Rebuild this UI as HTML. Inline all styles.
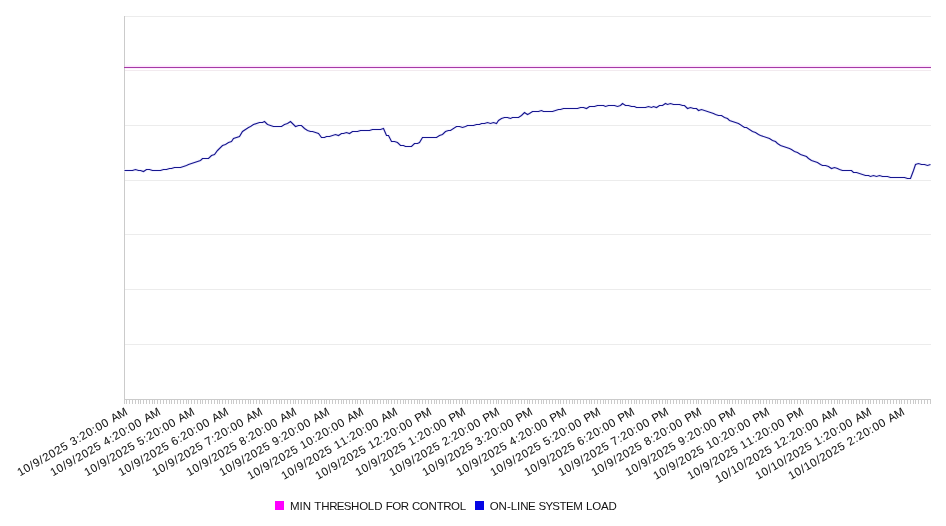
<!DOCTYPE html>
<html lang="en"><head><meta charset="utf-8"><title>On-line system load</title>
<style>html,body{margin:0;padding:0;background:#fff;}body{width:946px;height:526px;overflow:hidden;}svg{display:block;}text{font-family:"Liberation Sans",sans-serif;fill:#121212;}.lab{font-size:11.5px;stroke:#121212;stroke-width:0.06px;}.leg{font-size:11.5px;}</style></head><body>
<svg width="946" height="526" viewBox="0 0 946 526" role="img" aria-label="On-line system load chart">
<rect x="0" y="0" width="946" height="526" fill="#ffffff"/>
<g stroke="#ececec" stroke-width="1" shape-rendering="crispEdges">
<line x1="124" y1="16.5" x2="931" y2="16.5"/>
<line x1="124" y1="70.5" x2="931" y2="70.5" stroke="#f2eaef"/>
<line x1="124" y1="125.5" x2="931" y2="125.5"/>
<line x1="124" y1="180.5" x2="931" y2="180.5"/>
<line x1="124" y1="234.5" x2="931" y2="234.5"/>
<line x1="124" y1="289.5" x2="931" y2="289.5"/>
<line x1="124" y1="344.5" x2="931" y2="344.5"/>
</g>
<g stroke="#cbcbcb" stroke-width="1" shape-rendering="crispEdges">
<line x1="124.5" y1="16" x2="124.5" y2="400"/>
<line x1="124" y1="399.5" x2="931" y2="399.5"/>
<path d="M124.5 400v4M126.5 400v4M129.5 400v4M132.5 400v4M135.5 400v4M138.5 400v4M140.5 400v4M143.5 400v4M146.5 400v4M149.5 400v4M152.5 400v4M154.5 400v4M157.5 400v4M160.5 400v4M163.5 400v4M166.5 400v4M169.5 400v4M171.5 400v4M174.5 400v4M177.5 400v4M180.5 400v4M183.5 400v4M186.5 400v4M188.5 400v4M191.5 400v4M194.5 400v4M197.5 400v4M200.5 400v4M202.5 400v4M205.5 400v4M208.5 400v4M211.5 400v4M214.5 400v4M217.5 400v4M219.5 400v4M222.5 400v4M225.5 400v4M228.5 400v4M231.5 400v4M233.5 400v4M236.5 400v4M239.5 400v4M242.5 400v4M245.5 400v4M248.5 400v4M250.5 400v4M253.5 400v4M256.5 400v4M259.5 400v4M262.5 400v4M264.5 400v4M267.5 400v4M270.5 400v4M273.5 400v4M276.5 400v4M279.5 400v4M281.5 400v4M284.5 400v4M287.5 400v4M290.5 400v4M293.5 400v4M295.5 400v4M298.5 400v4M301.5 400v4M304.5 400v4M307.5 400v4M310.5 400v4M312.5 400v4M315.5 400v4M318.5 400v4M321.5 400v4M324.5 400v4M326.5 400v4M329.5 400v4M332.5 400v4M335.5 400v4M338.5 400v4M341.5 400v4M343.5 400v4M346.5 400v4M349.5 400v4M352.5 400v4M355.5 400v4M357.5 400v4M360.5 400v4M363.5 400v4M366.5 400v4M369.5 400v4M372.5 400v4M374.5 400v4M377.5 400v4M380.5 400v4M383.5 400v4M386.5 400v4M388.5 400v4M391.5 400v4M394.5 400v4M397.5 400v4M400.5 400v4M403.5 400v4M405.5 400v4M408.5 400v4M411.5 400v4M414.5 400v4M417.5 400v4M419.5 400v4M422.5 400v4M425.5 400v4M428.5 400v4M431.5 400v4M434.5 400v4M436.5 400v4M439.5 400v4M442.5 400v4M445.5 400v4M448.5 400v4M450.5 400v4M453.5 400v4M456.5 400v4M459.5 400v4M462.5 400v4M465.5 400v4M467.5 400v4M470.5 400v4M473.5 400v4M476.5 400v4M479.5 400v4M481.5 400v4M484.5 400v4M487.5 400v4M490.5 400v4M493.5 400v4M496.5 400v4M498.5 400v4M501.5 400v4M504.5 400v4M507.5 400v4M510.5 400v4M512.5 400v4M515.5 400v4M518.5 400v4M521.5 400v4M524.5 400v4M527.5 400v4M529.5 400v4M532.5 400v4M535.5 400v4M538.5 400v4M541.5 400v4M543.5 400v4M546.5 400v4M549.5 400v4M552.5 400v4M555.5 400v4M558.5 400v4M560.5 400v4M563.5 400v4M566.5 400v4M569.5 400v4M572.5 400v4M574.5 400v4M577.5 400v4M580.5 400v4M583.5 400v4M586.5 400v4M589.5 400v4M591.5 400v4M594.5 400v4M597.5 400v4M600.5 400v4M603.5 400v4M605.5 400v4M608.5 400v4M611.5 400v4M614.5 400v4M617.5 400v4M620.5 400v4M622.5 400v4M625.5 400v4M628.5 400v4M631.5 400v4M634.5 400v4M636.5 400v4M639.5 400v4M642.5 400v4M645.5 400v4M648.5 400v4M651.5 400v4M653.5 400v4M656.5 400v4M659.5 400v4M662.5 400v4M665.5 400v4M667.5 400v4M670.5 400v4M673.5 400v4M676.5 400v4M679.5 400v4M682.5 400v4M684.5 400v4M687.5 400v4M690.5 400v4M693.5 400v4M696.5 400v4M698.5 400v4M701.5 400v4M704.5 400v4M707.5 400v4M710.5 400v4M713.5 400v4M715.5 400v4M718.5 400v4M721.5 400v4M724.5 400v4M727.5 400v4M729.5 400v4M732.5 400v4M735.5 400v4M738.5 400v4M741.5 400v4M744.5 400v4M746.5 400v4M749.5 400v4M752.5 400v4M755.5 400v4M758.5 400v4M760.5 400v4M763.5 400v4M766.5 400v4M769.5 400v4M772.5 400v4M775.5 400v4M777.5 400v4M780.5 400v4M783.5 400v4M786.5 400v4M789.5 400v4M791.5 400v4M794.5 400v4M797.5 400v4M800.5 400v4M803.5 400v4M806.5 400v4M808.5 400v4M811.5 400v4M814.5 400v4M817.5 400v4M820.5 400v4M822.5 400v4M825.5 400v4M828.5 400v4M831.5 400v4M834.5 400v4M837.5 400v4M839.5 400v4M842.5 400v4M845.5 400v4M848.5 400v4M851.5 400v4M853.5 400v4M856.5 400v4M859.5 400v4M862.5 400v4M865.5 400v4M868.5 400v4M870.5 400v4M873.5 400v4M876.5 400v4M879.5 400v4M882.5 400v4M884.5 400v4M887.5 400v4M890.5 400v4M893.5 400v4M896.5 400v4M899.5 400v4M901.5 400v4M904.5 400v4M907.5 400v4M910.5 400v4M913.5 400v4M915.5 400v4M918.5 400v4M921.5 400v4M924.5 400v4M927.5 400v4M930.5 400v4" fill="none"/>
</g>
<g shape-rendering="crispEdges" stroke-width="1">
<line x1="125" y1="65.5" x2="931" y2="65.5" stroke="#fff3ff"/>
<line x1="125" y1="66.5" x2="931" y2="66.5" stroke="#fde4fd"/>
<line x1="125" y1="68.5" x2="931" y2="68.5" stroke="#fdeefd"/>
<line x1="124" y1="67.5" x2="931" y2="67.5" stroke="#a63aa6"/>
</g>
<polyline fill="none" stroke="#f3f2ff" stroke-width="3" stroke-linejoin="round" points="124.5,170.5 132.5,170.5 135.5,169.5 138.5,170.5 140.5,170.5 143.5,171.5 146.5,169.5 149.5,169.5 152.5,170.5 160.5,170.5 163.5,169.5 166.5,169.5 169.5,168.5 171.5,168.5 174.5,167.5 180.5,167.5 186.5,165.5 188.5,164.5 200.5,160.5 202.5,158.5 208.5,158.5 211.5,155.5 214.5,154.5 217.5,150.5 222.5,145.5 225.5,144.5 228.5,142.5 231.5,141.5 233.5,138.5 239.5,136.5 242.5,131.5 248.5,127.5 250.5,126.5 253.5,124.5 259.5,122.5 262.5,122.5 264.5,121.5 267.5,124.5 273.5,126.5 281.5,126.5 284.5,124.5 287.5,123.5 290.5,121.5 295.5,126.5 298.5,125.5 301.5,125.5 304.5,128.5 307.5,130.5 310.5,131.5 312.5,131.5 318.5,133.5 321.5,137.5 324.5,137.5 326.5,136.5 329.5,136.5 335.5,134.5 338.5,135.5 341.5,133.5 343.5,133.5 346.5,132.5 349.5,133.5 352.5,131.5 357.5,131.5 360.5,130.5 369.5,130.5 372.5,129.5 380.5,129.5 383.5,128.5 386.5,135.5 388.5,135.5 391.5,141.5 394.5,141.5 397.5,142.5 400.5,145.5 403.5,145.5 405.5,146.5 411.5,146.5 414.5,143.5 417.5,143.5 419.5,142.5 422.5,137.5 436.5,137.5 439.5,135.5 442.5,134.5 445.5,131.5 448.5,130.5 450.5,130.5 456.5,126.5 459.5,126.5 462.5,127.5 465.5,126.5 467.5,125.5 473.5,125.5 476.5,124.5 479.5,124.5 481.5,123.5 484.5,123.5 487.5,122.5 490.5,123.5 493.5,122.5 496.5,123.5 498.5,120.5 501.5,118.5 504.5,117.5 507.5,117.5 510.5,118.5 512.5,117.5 518.5,117.5 521.5,115.5 524.5,112.5 527.5,114.5 529.5,113.5 532.5,111.5 538.5,111.5 541.5,110.5 543.5,111.5 552.5,111.5 558.5,109.5 560.5,109.5 563.5,108.5 577.5,108.5 580.5,107.5 583.5,107.5 586.5,108.5 589.5,106.5 594.5,106.5 597.5,105.5 603.5,105.5 605.5,106.5 608.5,105.5 614.5,105.5 617.5,106.5 620.5,105.5 622.5,103.5 625.5,105.5 628.5,105.5 631.5,106.5 634.5,106.5 636.5,107.5 645.5,107.5 648.5,106.5 651.5,107.5 653.5,106.5 656.5,107.5 659.5,105.5 662.5,105.5 665.5,103.5 667.5,104.5 670.5,103.5 673.5,104.5 679.5,104.5 682.5,105.5 684.5,105.5 687.5,108.5 690.5,107.5 693.5,108.5 696.5,108.5 698.5,110.5 701.5,109.5 713.5,113.5 715.5,114.5 718.5,115.5 721.5,115.5 724.5,117.5 727.5,118.5 729.5,120.5 738.5,123.5 744.5,127.5 746.5,127.5 752.5,131.5 755.5,132.5 758.5,134.5 760.5,135.5 769.5,138.5 772.5,140.5 775.5,141.5 777.5,143.5 780.5,145.5 789.5,148.5 791.5,149.5 794.5,151.5 797.5,152.5 800.5,154.5 806.5,156.5 808.5,158.5 811.5,160.5 817.5,162.5 820.5,164.5 822.5,165.5 825.5,165.5 828.5,166.5 831.5,168.5 834.5,167.5 837.5,168.5 839.5,169.5 842.5,170.5 851.5,170.5 853.5,172.5 856.5,172.5 865.5,175.5 868.5,175.5 870.5,176.5 873.5,175.5 876.5,176.5 879.5,175.5 882.5,176.5 887.5,176.5 890.5,177.5 904.5,177.5 907.5,178.5 910.5,178.5 913.5,170.5 915.5,164.5 918.5,163.5 921.5,164.5 924.5,164.5 927.5,165.5 930.5,164.5"/>
<polyline fill="none" stroke="#16168e" stroke-width="1.15" stroke-linejoin="miter" points="124.5,170.5 132.5,170.5 135.5,169.5 138.5,170.5 140.5,170.5 143.5,171.5 146.5,169.5 149.5,169.5 152.5,170.5 160.5,170.5 163.5,169.5 166.5,169.5 169.5,168.5 171.5,168.5 174.5,167.5 180.5,167.5 186.5,165.5 188.5,164.5 200.5,160.5 202.5,158.5 208.5,158.5 211.5,155.5 214.5,154.5 217.5,150.5 222.5,145.5 225.5,144.5 228.5,142.5 231.5,141.5 233.5,138.5 239.5,136.5 242.5,131.5 248.5,127.5 250.5,126.5 253.5,124.5 259.5,122.5 262.5,122.5 264.5,121.5 267.5,124.5 273.5,126.5 281.5,126.5 284.5,124.5 287.5,123.5 290.5,121.5 295.5,126.5 298.5,125.5 301.5,125.5 304.5,128.5 307.5,130.5 310.5,131.5 312.5,131.5 318.5,133.5 321.5,137.5 324.5,137.5 326.5,136.5 329.5,136.5 335.5,134.5 338.5,135.5 341.5,133.5 343.5,133.5 346.5,132.5 349.5,133.5 352.5,131.5 357.5,131.5 360.5,130.5 369.5,130.5 372.5,129.5 380.5,129.5 383.5,128.5 386.5,135.5 388.5,135.5 391.5,141.5 394.5,141.5 397.5,142.5 400.5,145.5 403.5,145.5 405.5,146.5 411.5,146.5 414.5,143.5 417.5,143.5 419.5,142.5 422.5,137.5 436.5,137.5 439.5,135.5 442.5,134.5 445.5,131.5 448.5,130.5 450.5,130.5 456.5,126.5 459.5,126.5 462.5,127.5 465.5,126.5 467.5,125.5 473.5,125.5 476.5,124.5 479.5,124.5 481.5,123.5 484.5,123.5 487.5,122.5 490.5,123.5 493.5,122.5 496.5,123.5 498.5,120.5 501.5,118.5 504.5,117.5 507.5,117.5 510.5,118.5 512.5,117.5 518.5,117.5 521.5,115.5 524.5,112.5 527.5,114.5 529.5,113.5 532.5,111.5 538.5,111.5 541.5,110.5 543.5,111.5 552.5,111.5 558.5,109.5 560.5,109.5 563.5,108.5 577.5,108.5 580.5,107.5 583.5,107.5 586.5,108.5 589.5,106.5 594.5,106.5 597.5,105.5 603.5,105.5 605.5,106.5 608.5,105.5 614.5,105.5 617.5,106.5 620.5,105.5 622.5,103.5 625.5,105.5 628.5,105.5 631.5,106.5 634.5,106.5 636.5,107.5 645.5,107.5 648.5,106.5 651.5,107.5 653.5,106.5 656.5,107.5 659.5,105.5 662.5,105.5 665.5,103.5 667.5,104.5 670.5,103.5 673.5,104.5 679.5,104.5 682.5,105.5 684.5,105.5 687.5,108.5 690.5,107.5 693.5,108.5 696.5,108.5 698.5,110.5 701.5,109.5 713.5,113.5 715.5,114.5 718.5,115.5 721.5,115.5 724.5,117.5 727.5,118.5 729.5,120.5 738.5,123.5 744.5,127.5 746.5,127.5 752.5,131.5 755.5,132.5 758.5,134.5 760.5,135.5 769.5,138.5 772.5,140.5 775.5,141.5 777.5,143.5 780.5,145.5 789.5,148.5 791.5,149.5 794.5,151.5 797.5,152.5 800.5,154.5 806.5,156.5 808.5,158.5 811.5,160.5 817.5,162.5 820.5,164.5 822.5,165.5 825.5,165.5 828.5,166.5 831.5,168.5 834.5,167.5 837.5,168.5 839.5,169.5 842.5,170.5 851.5,170.5 853.5,172.5 856.5,172.5 865.5,175.5 868.5,175.5 870.5,176.5 873.5,175.5 876.5,176.5 879.5,175.5 882.5,176.5 887.5,176.5 890.5,177.5 904.5,177.5 907.5,178.5 910.5,178.5 913.5,170.5 915.5,164.5 918.5,163.5 921.5,164.5 924.5,164.5 927.5,165.5 930.5,164.5"/>
<g class="lab" style="filter:grayscale(1)">
<text transform="translate(128.0 414.1) rotate(-30)" x="-124.70 -117.70 -110.60 -106.70 -99.60 -95.70 -88.70 -81.70 -74.70 -67.60 -63.70 -56.60 -52.70 -45.70 -38.60 -34.70 -27.70 -20.60 -16.84 -9.29" y="0">10/9/2025 3:20:00 AM</text>
<text transform="translate(161.0 414.1) rotate(-30)" x="-124.70 -117.70 -110.60 -106.70 -99.60 -95.70 -88.70 -81.70 -74.70 -67.60 -63.70 -56.60 -52.70 -45.70 -38.60 -34.70 -27.70 -20.60 -16.84 -9.29" y="0">10/9/2025 4:20:00 AM</text>
<text transform="translate(195.0 414.1) rotate(-30)" x="-124.70 -117.70 -110.60 -106.70 -99.60 -95.70 -88.70 -81.70 -74.70 -67.60 -63.70 -56.60 -52.70 -45.70 -38.60 -34.70 -27.70 -20.60 -16.84 -9.29" y="0">10/9/2025 5:20:00 AM</text>
<text transform="translate(229.0 414.1) rotate(-30)" x="-124.70 -117.70 -110.60 -106.70 -99.60 -95.70 -88.70 -81.70 -74.70 -67.60 -63.70 -56.60 -52.70 -45.70 -38.60 -34.70 -27.70 -20.60 -16.84 -9.29" y="0">10/9/2025 6:20:00 AM</text>
<text transform="translate(263.0 414.1) rotate(-30)" x="-124.70 -117.70 -110.60 -106.70 -99.60 -95.70 -88.70 -81.70 -74.70 -67.60 -63.70 -56.60 -52.70 -45.70 -38.60 -34.70 -27.70 -20.60 -16.84 -9.29" y="0">10/9/2025 7:20:00 AM</text>
<text transform="translate(297.0 414.1) rotate(-30)" x="-124.70 -117.70 -110.60 -106.70 -99.60 -95.70 -88.70 -81.70 -74.70 -67.60 -63.70 -56.60 -52.70 -45.70 -38.60 -34.70 -27.70 -20.60 -16.84 -9.29" y="0">10/9/2025 8:20:00 AM</text>
<text transform="translate(330.0 414.1) rotate(-30)" x="-124.70 -117.70 -110.60 -106.70 -99.60 -95.70 -88.70 -81.70 -74.70 -67.60 -63.70 -56.60 -52.70 -45.70 -38.60 -34.70 -27.70 -20.60 -16.84 -9.29" y="0">10/9/2025 9:20:00 AM</text>
<text transform="translate(364.0 414.1) rotate(-30)" x="-131.70 -124.70 -117.60 -113.70 -106.60 -102.70 -95.70 -88.70 -81.70 -74.60 -70.70 -63.70 -56.60 -52.70 -45.70 -38.60 -34.70 -27.70 -20.60 -16.84 -9.29" y="0">10/9/2025 10:20:00 AM</text>
<text transform="translate(398.0 414.1) rotate(-30)" x="-131.70 -124.70 -117.60 -113.70 -106.60 -102.70 -95.70 -88.70 -81.70 -74.60 -70.70 -63.70 -56.60 -52.70 -45.70 -38.60 -34.70 -27.70 -20.60 -16.84 -9.29" y="0">10/9/2025 11:20:00 AM</text>
<text transform="translate(432.0 414.1) rotate(-30)" x="-131.70 -124.70 -117.60 -113.70 -106.60 -102.70 -95.70 -88.70 -81.70 -74.60 -70.70 -63.70 -56.60 -52.70 -45.70 -38.60 -34.70 -27.70 -20.60 -16.84 -9.29" y="0">10/9/2025 12:20:00 PM</text>
<text transform="translate(466.0 414.1) rotate(-30)" x="-124.70 -117.70 -110.60 -106.70 -99.60 -95.70 -88.70 -81.70 -74.70 -67.60 -63.70 -56.60 -52.70 -45.70 -38.60 -34.70 -27.70 -20.60 -16.84 -9.29" y="0">10/9/2025 1:20:00 PM</text>
<text transform="translate(500.0 414.1) rotate(-30)" x="-124.70 -117.70 -110.60 -106.70 -99.60 -95.70 -88.70 -81.70 -74.70 -67.60 -63.70 -56.60 -52.70 -45.70 -38.60 -34.70 -27.70 -20.60 -16.84 -9.29" y="0">10/9/2025 2:20:00 PM</text>
<text transform="translate(533.0 414.1) rotate(-30)" x="-124.70 -117.70 -110.60 -106.70 -99.60 -95.70 -88.70 -81.70 -74.70 -67.60 -63.70 -56.60 -52.70 -45.70 -38.60 -34.70 -27.70 -20.60 -16.84 -9.29" y="0">10/9/2025 3:20:00 PM</text>
<text transform="translate(567.0 414.1) rotate(-30)" x="-124.70 -117.70 -110.60 -106.70 -99.60 -95.70 -88.70 -81.70 -74.70 -67.60 -63.70 -56.60 -52.70 -45.70 -38.60 -34.70 -27.70 -20.60 -16.84 -9.29" y="0">10/9/2025 4:20:00 PM</text>
<text transform="translate(601.0 414.1) rotate(-30)" x="-124.70 -117.70 -110.60 -106.70 -99.60 -95.70 -88.70 -81.70 -74.70 -67.60 -63.70 -56.60 -52.70 -45.70 -38.60 -34.70 -27.70 -20.60 -16.84 -9.29" y="0">10/9/2025 5:20:00 PM</text>
<text transform="translate(635.0 414.1) rotate(-30)" x="-124.70 -117.70 -110.60 -106.70 -99.60 -95.70 -88.70 -81.70 -74.70 -67.60 -63.70 -56.60 -52.70 -45.70 -38.60 -34.70 -27.70 -20.60 -16.84 -9.29" y="0">10/9/2025 6:20:00 PM</text>
<text transform="translate(669.0 414.1) rotate(-30)" x="-124.70 -117.70 -110.60 -106.70 -99.60 -95.70 -88.70 -81.70 -74.70 -67.60 -63.70 -56.60 -52.70 -45.70 -38.60 -34.70 -27.70 -20.60 -16.84 -9.29" y="0">10/9/2025 7:20:00 PM</text>
<text transform="translate(702.0 414.1) rotate(-30)" x="-124.70 -117.70 -110.60 -106.70 -99.60 -95.70 -88.70 -81.70 -74.70 -67.60 -63.70 -56.60 -52.70 -45.70 -38.60 -34.70 -27.70 -20.60 -16.84 -9.29" y="0">10/9/2025 8:20:00 PM</text>
<text transform="translate(736.0 414.1) rotate(-30)" x="-124.70 -117.70 -110.60 -106.70 -99.60 -95.70 -88.70 -81.70 -74.70 -67.60 -63.70 -56.60 -52.70 -45.70 -38.60 -34.70 -27.70 -20.60 -16.84 -9.29" y="0">10/9/2025 9:20:00 PM</text>
<text transform="translate(770.0 414.1) rotate(-30)" x="-131.70 -124.70 -117.60 -113.70 -106.60 -102.70 -95.70 -88.70 -81.70 -74.60 -70.70 -63.70 -56.60 -52.70 -45.70 -38.60 -34.70 -27.70 -20.60 -16.84 -9.29" y="0">10/9/2025 10:20:00 PM</text>
<text transform="translate(804.0 414.1) rotate(-30)" x="-131.70 -124.70 -117.60 -113.70 -106.60 -102.70 -95.70 -88.70 -81.70 -74.60 -70.70 -63.70 -56.60 -52.70 -45.70 -38.60 -34.70 -27.70 -20.60 -16.84 -9.29" y="0">10/9/2025 11:20:00 PM</text>
<text transform="translate(838.0 414.1) rotate(-30)" x="-138.70 -131.70 -124.60 -120.70 -113.70 -106.60 -102.70 -95.70 -88.70 -81.70 -74.60 -70.70 -63.70 -56.60 -52.70 -45.70 -38.60 -34.70 -27.70 -20.60 -16.84 -9.29" y="0">10/10/2025 12:20:00 AM</text>
<text transform="translate(872.0 414.1) rotate(-30)" x="-131.70 -124.70 -117.60 -113.70 -106.70 -99.60 -95.70 -88.70 -81.70 -74.70 -67.60 -63.70 -56.60 -52.70 -45.70 -38.60 -34.70 -27.70 -20.60 -16.84 -9.29" y="0">10/10/2025 1:20:00 AM</text>
<text transform="translate(905.0 414.1) rotate(-30)" x="-131.70 -124.70 -117.60 -113.70 -106.70 -99.60 -95.70 -88.70 -81.70 -74.70 -67.60 -63.70 -56.60 -52.70 -45.70 -38.60 -34.70 -27.70 -20.60 -16.84 -9.29" y="0">10/10/2025 2:20:00 AM</text>
</g>
<rect x="275" y="501" width="9" height="9" fill="#ff00ff"/>
<rect x="475" y="501" width="9" height="9" fill="#0505e4"/>
<g class="leg" style="filter:grayscale(1)">
<text x="289.96 299.52 302.71 311.13 314.32 321.18 329.15 336.76 343.73 351.05 359.20 367.87 374.22 382.76 385.76 392.30 400.78 408.90 411.94 419.80 428.56 436.68 443.23 451.06 459.74" y="510">MIN THRESHOLD FOR CONTROL</text>
<text x="489.86 498.62 506.95 510.72 517.00 520.18 528.09 535.55 538.55 545.40 552.25 559.42 565.93 573.19 582.88 586.09 592.21 600.93 608.61" y="510">ON-LINE SYSTEM LOAD</text>
</g>
</svg></body></html>
